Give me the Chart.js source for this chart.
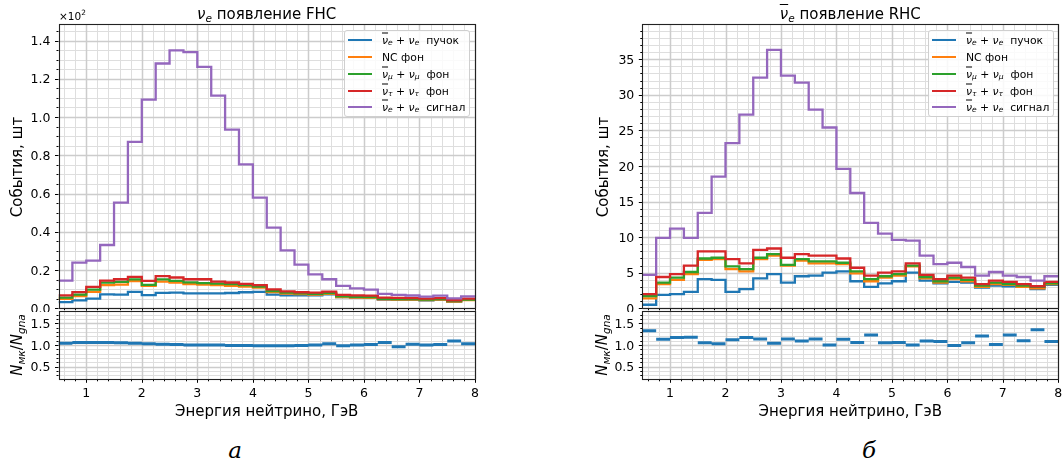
<!DOCTYPE html>
<html>
<head>
<meta charset="utf-8">
<script src="https://cdn.jsdelivr.net/npm/chart.js@4.4.1/dist/chart.umd.min.js"></script>
<style>
  body { margin: 0; background: #fff; }
  #wrap { position: relative; width: 1063px; height: 463px; font-family: 'DejaVu Sans', sans-serif; color: #000; overflow: hidden; }
  canvas { position: absolute; }
  .txt { position: absolute; white-space: nowrap; }
  .ctr { transform: translate(-50%, -50%); }
  .rot { transform: translate(-50%, -50%) rotate(-90deg); }
  .ov { text-decoration: overline; }
  sub { font-size: 70%; vertical-align: -0.25em; line-height: 0; }
  .legend { position: absolute; background: rgba(255,255,255,0.85); border: 1px solid #cfcfcf; border-radius: 3px; box-sizing: border-box; }
  .row { position: absolute; font-size: 10.8px; white-space: nowrap; }
  .hd { position: absolute; width: 24px; height: 2px; }
  .lt { position: absolute; transform: translateY(-50%); }
</style>
</head>
<body>
<div id="wrap">
  <canvas id="fhcMain" width="480" height="312" style="left:0;top:0"></canvas>
  <canvas id="rhcMain" width="479" height="312" style="left:584px;top:0"></canvas>
  <canvas id="fhcRatio" width="480" height="110" style="left:0;top:309px"></canvas>
  <canvas id="rhcRatio" width="479" height="110" style="left:584px;top:309px"></canvas>
</div>
<script>
// bin edges, GeV
const binEdges = [0.5, 0.75, 1, 1.25, 1.5, 1.75, 2, 2.25, 2.5, 2.75, 3, 3.25, 3.5, 3.75, 4, 4.25,
  4.5, 4.75, 5, 5.25, 5.5, 5.75, 6, 6.25, 6.5, 6.75, 7, 7.25, 7.5, 7.75, 8];

// FHC, events per bin
const fhcBeam   = [3.2, 4.1, 5.1, 7.3, 7.1, 8.6, 6.9, 8.1, 8.2, 7.8, 7.8, 7.8, 8.0, 8.4, 8.6, 7.1, 6.8, 6.8, 6.8, 7.3, 5.9, 5.6, 5.9, 4.5, 4.5, 4.5, 4.2, 4.5, 3.5, 4.5];
const fhcNC     = [5.0, 6.4, 8.6, 12.1, 12.4, 14.2, 11.7, 14.0, 13.4, 12.7, 12.4, 12.1, 11.8, 11.4, 10.8, 8.5, 7.7, 7.4, 7.2, 7.6, 5.8, 5.6, 5.5, 4.7, 4.5, 4.5, 4.3, 4.5, 3.5, 4.3];
const fhcNumu   = [5.6, 7.1, 9.8, 13.4, 13.8, 15.1, 12.3, 15.1, 14.3, 13.6, 13.2, 12.9, 12.6, 12.1, 11.4, 9.0, 8.2, 7.8, 7.6, 8.0, 6.2, 6.0, 5.9, 5.0, 4.8, 4.8, 4.6, 4.8, 3.8, 4.6];
const fhcNutau  = [6.8, 8.5, 11.2, 14.5, 15.2, 16.4, 14.3, 16.8, 16.1, 15.2, 15.2, 13.9, 13.5, 12.8, 12.1, 9.9, 8.9, 8.4, 8.2, 8.7, 7.0, 6.8, 6.6, 5.6, 5.4, 5.3, 5.1, 5.3, 4.2, 5.1];
const fhcSignal = [14.5, 23.9, 24.9, 33.1, 55.3, 87.0, 109.1, 128.0, 134.9, 133.9, 126.2, 111.2, 93.4, 75.3, 57.9, 42.2, 30.3, 22.8, 17.7, 15.2, 11.7, 10.4, 9.8, 7.5, 7.0, 6.7, 6.1, 6.6, 5.2, 6.2];
const fhcRatio  = [1.04, 1.06, 1.06, 1.06, 1.05, 1.04, 1.03, 1.02, 1.01, 1.0, 1.0, 1.0, 0.99, 0.99, 0.98, 0.98, 0.98, 0.99, 1.0, 1.03, 0.98, 1.0, 1.01, 1.06, 0.96, 1.02, 1.0, 1.01, 1.09, 1.03];

// RHC, events per bin
const rhcBeam   = [0.5, 1.9, 2.0, 2.3, 4.1, 4.0, 2.3, 2.7, 4.2, 4.8, 3.6, 4.5, 4.6, 5.0, 5.2, 3.8, 3.0, 3.5, 3.8, 5.0, 3.9, 3.5, 3.7, 3.6, 2.9, 3.2, 3.1, 3.0, 2.7, 3.3];
const rhcNC     = [1.4, 3.4, 4.0, 4.8, 6.8, 6.9, 5.5, 5.2, 6.9, 7.4, 6.0, 6.7, 6.3, 6.3, 6.2, 4.9, 3.8, 4.3, 4.6, 5.9, 4.2, 3.6, 4.1, 3.8, 3.0, 3.4, 3.3, 3.0, 2.8, 3.4];
const rhcNumu   = [1.7, 3.6, 4.3, 5.1, 7.0, 7.1, 5.9, 5.5, 7.1, 7.6, 6.1, 6.9, 6.6, 6.6, 6.4, 5.2, 4.1, 4.5, 4.8, 6.0, 4.4, 3.8, 4.3, 4.0, 3.2, 3.6, 3.4, 3.2, 3.0, 3.5];
const rhcNutau  = [2.0, 4.4, 4.8, 6.0, 8.0, 8.0, 6.9, 6.3, 8.2, 8.4, 7.1, 7.6, 7.4, 7.4, 7.0, 5.7, 4.6, 5.0, 5.2, 6.3, 4.7, 4.1, 4.6, 4.3, 3.4, 3.9, 3.7, 3.4, 3.1, 3.7];
const rhcSignal = [4.7, 9.9, 11.2, 9.9, 13.4, 18.5, 23.2, 27.2, 32.4, 36.3, 32.7, 31.7, 27.9, 25.4, 19.6, 16.2, 12.0, 10.5, 9.6, 9.5, 7.4, 6.2, 6.4, 5.8, 4.6, 5.1, 4.6, 4.4, 3.9, 4.5];
const rhcRatio  = [1.33, 1.13, 1.17, 1.18, 1.05, 1.03, 1.12, 1.17, 1.14, 1.04, 1.14, 1.09, 1.14, 1.0, 1.13, 1.06, 1.23, 1.05, 1.06, 1.0, 1.09, 1.08, 0.99, 1.05, 1.21, 1.01, 1.23, 1.1, 1.35, 1.08];

// tick labels
const xTicks = [1, 2, 3, 4, 5, 6, 7, 8];
const fhcTicks = [0, 20, 40, 60, 80, 100, 120, 140];
const rhcTicks = [0, 5, 10, 15, 20, 25, 30, 35];
const ratioTicks = [0.5, 1.0, 1.5];

const seriesNames = ['пучок', 'NC фон', 'νμ фон', 'ντ фон', 'сигнал'];
const colors = ['#1f77b4', '#ff7f0e', '#2ca02c', '#d62728', '#9467bd'];

function minorList(lo, hi, step, majors) {
  const out = [];
  for (let k = 0; lo + k * step <= hi + 1e-9; k++) {
    const v = +(lo + k * step).toFixed(4);
    if (!majors.some(m => Math.abs(m - v) < 1e-6)) out.push(v);
  }
  return out;
}

// grid, spines, ticks and tick labels, all placed through the chart scales
const decor = {
  id: 'decor',
  beforeDatasetsDraw(chart, args, o) {
    const { ctx, chartArea: a, scales: { x, y } } = chart;
    ctx.save();
    const vline = v => { const p = Math.round(x.getPixelForValue(v)) + 0.5; ctx.beginPath(); ctx.moveTo(p, a.top); ctx.lineTo(p, a.bottom); ctx.stroke(); };
    const hline = v => { const p = Math.round(y.getPixelForValue(v)) + 0.5; ctx.beginPath(); ctx.moveTo(a.left, p); ctx.lineTo(a.right, p); ctx.stroke(); };
    ctx.lineWidth = 1; ctx.strokeStyle = '#dedede';
    o.xMinor.forEach(vline); o.yMinor.forEach(hline);
    ctx.lineWidth = 1.5; ctx.strokeStyle = '#cccccc';
    o.xMajor.forEach(vline); o.yMajor.forEach(hline);
    ctx.restore();
  },
  afterDatasetsDraw(chart, args, o) {
    const { ctx, chartArea: a, scales: { x, y } } = chart;
    ctx.save();
    ctx.strokeStyle = '#000'; ctx.lineWidth = 1;
    const xt = (v, len) => { const p = Math.round(x.getPixelForValue(v)) + 0.5; ctx.beginPath(); ctx.moveTo(p, a.bottom); ctx.lineTo(p, a.bottom + len); ctx.stroke(); };
    const yt = (v, len) => { const p = Math.round(y.getPixelForValue(v)) + 0.5; ctx.beginPath(); ctx.moveTo(a.left, p); ctx.lineTo(a.left - len, p); ctx.stroke(); };
    o.xMinor.forEach(v => xt(v, 2)); o.xMajor.forEach(v => xt(v, 3.5));
    o.yMinor.forEach(v => yt(v, 2)); o.yMajor.forEach(v => yt(v, 3.5));
    ctx.lineWidth = 1.1; ctx.strokeStyle = '#222';
    ctx.strokeRect(Math.round(a.left) + 0.5, Math.round(a.top) + 0.5, Math.round(a.right) - Math.round(a.left), Math.round(a.bottom) - Math.round(a.top));
    ctx.fillStyle = '#000';
    ctx.font = '12.5px "DejaVu Sans"';
    ctx.textBaseline = 'alphabetic';
    ctx.textAlign = 'right';
    o.yMajor.forEach(v => ctx.fillText(o.yFmt(v), a.left - 8, y.getPixelForValue(v) + 4.6));
    if (o.xLabels) {
      ctx.textAlign = 'center';
      o.xMajor.forEach(v => ctx.fillText(String(v), x.getPixelForValue(v), a.bottom + 17.3));
    }
    ctx.restore();
  }
};

function stepPoints(vals) {
  const pts = vals.map((v, i) => ({ x: binEdges[i], y: v }));
  pts.push({ x: binEdges[vals.length], y: vals[vals.length - 1] });
  return pts;
}

function ratioPoints(vals) {
  const pts = [];
  vals.forEach((v, i) => {
    pts.push({ x: binEdges[i], y: v }, { x: binEdges[i + 1], y: v }, { x: binEdges[i + 1], y: null });
  });
  return pts;
}

function makeChart(id, datasets, cfg) {
  return new Chart(document.getElementById(id), {
    type: 'line',
    data: { datasets },
    plugins: [decor],
    options: {
      responsive: false,
      animation: false,
      devicePixelRatio: 1,
      layout: { padding: { top: cfg.padTop, right: cfg.padRight, left: 0, bottom: 0 } },
      plugins: { legend: { display: false }, tooltip: { enabled: false }, decor: cfg.decor },
      elements: { point: { radius: 0 }, line: { tension: 0, borderCapStyle: 'butt', borderJoinStyle: 'miter' } },
      scales: {
        x: {
          type: 'linear', min: 0.5, max: 8,
          grid: { display: false, drawTicks: false }, border: { display: false },
          afterFit: s => { s.height = cfg.xHeight; },
          ticks: { display: false }
        },
        y: {
          type: 'linear', min: cfg.yMin, max: cfg.yMax,
          grid: { display: false, drawTicks: false }, border: { display: false },
          afterFit: s => { s.width = cfg.yWidth; },
          ticks: { display: false }
        }
      }
    }
  });
}

function histSets(list) {
  const order = [5, 4, 3, 2, 1];
  return list.map((vals, i) => ({
    label: seriesNames[i], data: stepPoints(vals), borderColor: colors[i],
    borderWidth: 2.3, stepped: true, order: order[i]
  }));
}

const xMinor = minorList(0.6, 7.8, 0.2, xTicks);

makeChart('fhcMain', histSets([fhcBeam, fhcNC, fhcNumu, fhcNutau, fhcSignal]), {
  padTop: 24.3, padRight: 5, xHeight: 3.7, yWidth: 58.5, yMin: 0, yMax: 148.5,
  decor: { xMajor: xTicks, xMinor, yMajor: fhcTicks, yMinor: minorList(5, 145, 5, fhcTicks),
    xLabels: false, yFmt: v => (v / 100).toFixed(1) }
});
makeChart('rhcMain', histSets([rhcBeam, rhcNC, rhcNumu, rhcNutau, rhcSignal]), {
  padTop: 24.3, padRight: 4.7, xHeight: 3.7, yWidth: 58.3, yMin: 0, yMax: 39.9,
  decor: { xMajor: xTicks, xMinor, yMajor: rhcTicks, yMinor: minorList(1, 39, 1, rhcTicks),
    xLabels: false, yFmt: v => String(v) }
});
const ratioSet = vals => [{ label: 'N', data: ratioPoints(vals), borderColor: '#1f77b4', borderWidth: 3, spanGaps: false }];
makeChart('fhcRatio', ratioSet(fhcRatio), {
  padTop: 1.7, padRight: 5, xHeight: 39.7, yWidth: 58.5, yMin: 0.21, yMax: 1.79,
  decor: { xMajor: xTicks, xMinor, yMajor: ratioTicks, yMinor: minorList(0.3, 1.7, 0.1, ratioTicks),
    xLabels: true, yFmt: v => v.toFixed(1) }
});
makeChart('rhcRatio', ratioSet(rhcRatio), {
  padTop: 1.7, padRight: 4.7, xHeight: 39.7, yWidth: 58.3, yMin: 0.21, yMax: 1.79,
  decor: { xMajor: xTicks, xMinor, yMajor: ratioTicks, yMinor: minorList(0.3, 1.7, 0.1, ratioTicks),
    xLabels: true, yFmt: v => v.toFixed(1) }
});

// text overlays
const wrap = document.getElementById('wrap');
function addText(html, cls, x, y, style) {
  const d = document.createElement('div');
  d.className = 'txt ' + cls;
  d.style.left = x + 'px'; d.style.top = y + 'px';
  d.style.cssText += style || '';
  d.innerHTML = html;
  wrap.appendChild(d);
}
const nu = (sym, sub, bar) => (bar ? '<i class="ov">' + sym + '</i>' : '<i>' + sym + '</i>') + '<sub><i>' + sub + '</i></sub>';

addText(nu('ν', 'e') + ' появление FHC', 'ctr', 266.7, 13.5, 'font-size:15px;');
addText(nu('ν', 'e', true) + ' появление RHC', 'ctr', 850.3, 13.5, 'font-size:15px;');
addText('×10<sup style="font-size:70%">2</sup>', '', 59, 9, 'font-size:10.5px;line-height:1;');
addText('События, шт', 'rot', 17, 166.5, 'font-size:15px;');
addText('События, шт', 'rot', 603, 166.5, 'font-size:15px;');
const ratioLab = '<i>N</i><sub><i>мк</i></sub>/<i>N</i><sub><i>gna</i></sub>';
addText(ratioLab, 'rot', 17, 345, 'font-size:15px;');
addText(ratioLab, 'rot', 602, 345, 'font-size:15px;');
addText('Энергия нейтрино, ГэВ', 'ctr', 266.7, 410.5, 'font-size:15px;');
addText('Энергия нейтрино, ГэВ', 'ctr', 850.3, 410.5, 'font-size:15px;');
addText('а', 'ctr', 235, 450, "font-size:23px;font-family:'DejaVu Serif',serif;font-style:italic;");
addText('б', 'ctr', 869, 450, "font-size:23px;font-family:'DejaVu Serif',serif;font-style:italic;");

const legendLabels = [
  nu('ν', 'e', true) + ' + ' + nu('ν', 'e') + '&nbsp; пучок',
  'NC фон',
  nu('ν', 'μ', true) + ' + ' + nu('ν', 'μ') + '&nbsp; фон',
  nu('ν', 'τ', true) + ' + ' + nu('ν', 'τ') + '&nbsp; фон',
  nu('ν', 'e', true) + ' + ' + nu('ν', 'e') + '&nbsp; сигнал'
];
function addLegend(left) {
  const box = document.createElement('div');
  box.className = 'legend';
  box.style.left = Math.round(left) + 'px'; box.style.top = '30px';
  box.style.width = '126px'; box.style.height = '87px';
  wrap.appendChild(box);
  legendLabels.forEach((lab, i) => {
    const cy = 9.3 + i * 16.75;
    const h = document.createElement('div');
    h.className = 'hd'; h.style.background = colors[i];
    h.style.left = '3px'; h.style.top = Math.round(cy - 1) + 'px';
    box.appendChild(h);
    const t = document.createElement('div');
    t.className = 'row lt'; t.style.left = '37px'; t.style.top = cy + 'px';
    t.innerHTML = lab;
    box.appendChild(t);
  });
}
addLegend(344);
addLegend(928);
</script>
</body>
</html>
